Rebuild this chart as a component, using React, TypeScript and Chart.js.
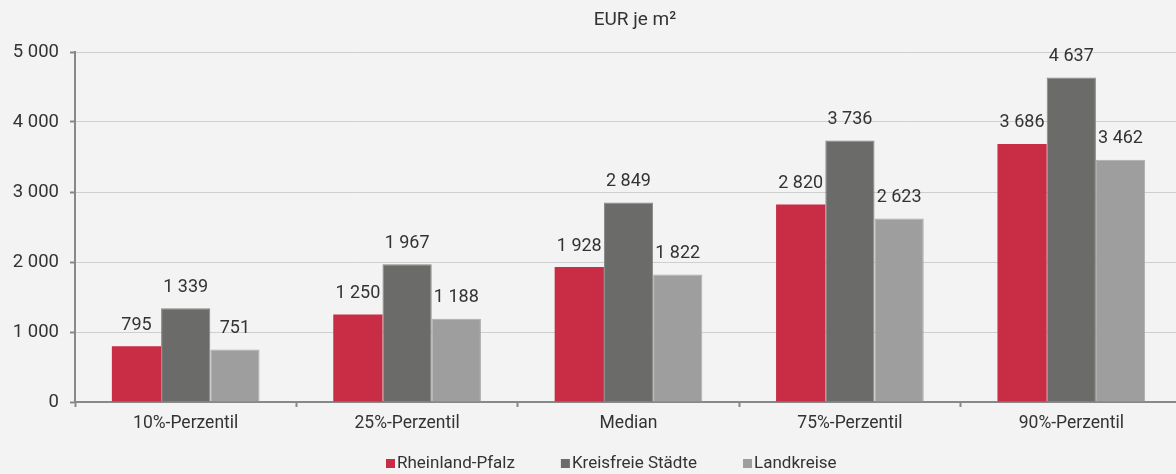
import React, { useEffect, useRef } from "react";
import { Chart, registerables } from "chart.js";

Chart.register(...registerables);

const categories = ["10%-Perzentil", "25%-Perzentil", "Median", "75%-Perzentil", "90%-Perzentil"];
const rheinlandPfalz = [795, 1250, 1928, 2820, 3686];
const kreisfreieStaedte = [1339, 1967, 2849, 3736, 4637];
const landkreise = [751, 1188, 1822, 2623, 3462];
const seriesNames = ["Rheinland-Pfalz", "Kreisfreie Städte", "Landkreise"];
const yTicks = [0, 1000, 2000, 3000, 4000, 5000];
const titleText = "EUR je m²";

const COLORS = ["#c92d45", "#6b6b69", "#9e9e9e"];
const TEXT = "#333333";
const FONT = "Roboto";

const fmt = (v: number) => String(v).replace(/\B(?=(\d{3})+(?!\d))/g, " ");

const labelsPlugin = {
  id: "valueLabels",
  afterDatasetsDraw(chart: any) {
    const ctx = chart.ctx;
    ctx.save();
    ctx.font = `18px ${FONT}`;
    ctx.fillStyle = TEXT;
    ctx.textAlign = "center";
    ctx.textBaseline = "alphabetic";
    chart.data.datasets.forEach((ds: any, di: number) => {
      const meta = chart.getDatasetMeta(di);
      meta.data.forEach((el: any, i: number) => {
        ctx.fillText(fmt(ds.data[i]), el.x, el.y - 16.5);
      });
    });
    ctx.restore();
  },
};

const decorPlugin = {
  id: "decor",
  afterDraw(chart: any) {
    const ctx = chart.ctx;
    ctx.save();
    // title
    ctx.font = `19px ${FONT}`;
    ctx.fillStyle = TEXT;
    ctx.textAlign = "center";
    ctx.textBaseline = "middle";
    ctx.fillText(titleText, 635, 20);
    // legend
    ctx.font = `17px ${FONT}`;
    ctx.textAlign = "left";
    let x = 386;
    seriesNames.forEach((name, i) => {
      ctx.fillStyle = COLORS[i];
      ctx.fillRect(x, 459, 9, 9);
      ctx.fillStyle = TEXT;
      ctx.fillText(name, x + 11, 464);
      x += 11 + ctx.measureText(name).width + 46;
    });
    ctx.restore();
  },
};

export default function App() {
  const ref = useRef<HTMLCanvasElement>(null);
  useEffect(() => {
    if (!ref.current) return;
    const chart = new Chart(ref.current, {
      type: "bar",
      data: {
        labels: categories,
        datasets: [
          { label: seriesNames[0], data: rheinlandPfalz, backgroundColor: COLORS[0] },
          { label: seriesNames[1], data: kreisfreieStaedte, backgroundColor: COLORS[1], borderColor: "#858583", borderWidth: 1 },
          { label: seriesNames[2], data: landkreise, backgroundColor: COLORS[2], borderColor: "#ababab", borderWidth: 1 },
        ],
      },
      options: {
        responsive: false,
        animation: false,
        layout: { padding: { top: 52, left: 0, right: 8, bottom: 0 } },
        datasets: { bar: { categoryPercentage: 0.667, barPercentage: 1 } },
        plugins: {
          legend: { display: false },
          title: { display: false },
          tooltip: { enabled: false },
        },
        scales: {
          x: {
            grid: { drawOnChartArea: false, drawTicks: true, tickLength: 5, tickColor: "#888888", tickWidth: 2 },
            border: { color: "#888888", width: 2 },
            ticks: { color: TEXT, font: { family: FONT, size: 17.5 }, padding: 6, maxRotation: 0 },
            afterFit(scale: any) {
              scale.height = 72;
            },
          },
          y: {
            min: 0,
            max: 5000,
            afterBuildTicks(scale: any) {
              scale.ticks = yTicks.map((v) => ({ value: v }));
            },
            grid: { color: "#cfcfcf", lineWidth: 1, tickLength: 5, tickColor: "#888888", tickWidth: 2 },
            border: { color: "#888888", width: 2 },
            ticks: {
              color: TEXT,
              font: { family: FONT, size: 18.5 },
              padding: 11,
              callback: (v: any) => fmt(Number(v)),
            },
            afterFit(scale: any) {
              scale.width = 75;
            },
          },
        },
      },
      plugins: [labelsPlugin, decorPlugin],
    });
    return () => chart.destroy();
  }, []);
  return (
    <div
      style={{
        position: "fixed",
        left: 0,
        top: 0,
        width: 1176,
        height: 474,
        overflow: "hidden",
        background: "#f3f3f3",
      }}
    >
      <canvas ref={ref} width={1190} height={474} style={{ display: "block" }} />
    </div>
  );
}
